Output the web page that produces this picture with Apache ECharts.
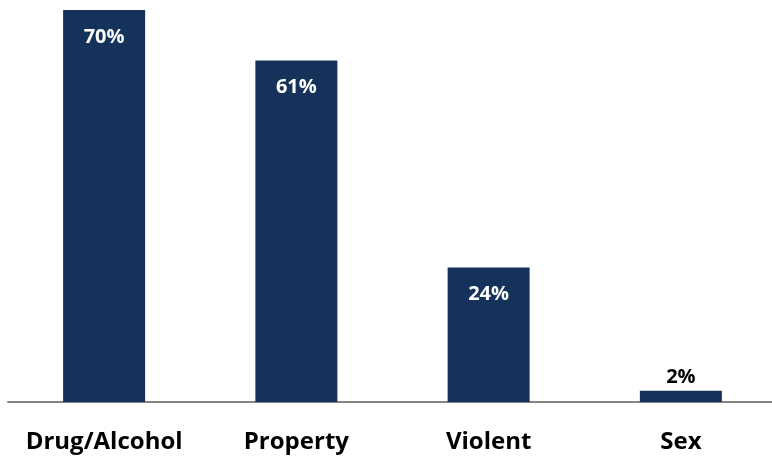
<!DOCTYPE html>
<html>
<head>
<meta charset="utf-8">
<script src="https://cdn.jsdelivr.net/npm/echarts@6/dist/echarts.min.js"></script>
<style>
  html, body { margin: 0; padding: 0; background: #ffffff; overflow: hidden; width: 772px; height: 459px; }
  /* plot area runs a few pixels past the right edge of the page */
  #chart { width: 782px; height: 459px; }
</style>
</head>
<body>
<div id="chart"></div>
<script>
// Offense categories and share of cases (%)
const categories = ['Drug/Alcohol', 'Property', 'Violent', 'Sex'];
const shares = [70, 61, 24, 2];

const barColor = '#14325a';
const fontFamily = '"Open Sans", Lato, sans-serif';

const chart = echarts.init(document.getElementById('chart'));

chart.setOption({
  animation: false,
  grid: { left: 8, top: 10, width: 769, height: 392, containLabel: false },
  xAxis: {
    type: 'category',
    data: categories,
    axisLine: { show: true, lineStyle: { color: '#858585', width: 2 } },
    axisTick: { show: false },
    axisLabel: {
      interval: 0,
      hideOverlap: false,
      color: '#000000',
      fontFamily: fontFamily,
      fontWeight: 'bold',
      fontSize: 24,
      margin: 28
    }
  },
  yAxis: {
    type: 'value',
    min: 0,
    max: 70,
    show: false,
    splitLine: { show: false }
  },
  series: [{
    type: 'bar',
    data: shares.map(function (v) {
      const small = v < 5;
      return {
        value: v,
        label: small
          ? { position: 'top', color: '#000000', distance: 4 }
          : { position: 'insideTop', color: '#ffffff', distance: 17 }
      };
    }),
    barWidth: 82,
    itemStyle: { color: barColor },
    label: {
      show: true,
      fontFamily: fontFamily,
      fontWeight: 'bold',
      fontSize: 20,
      formatter: '{c}%'
    }
  }]
});
</script>
</body>
</html>
